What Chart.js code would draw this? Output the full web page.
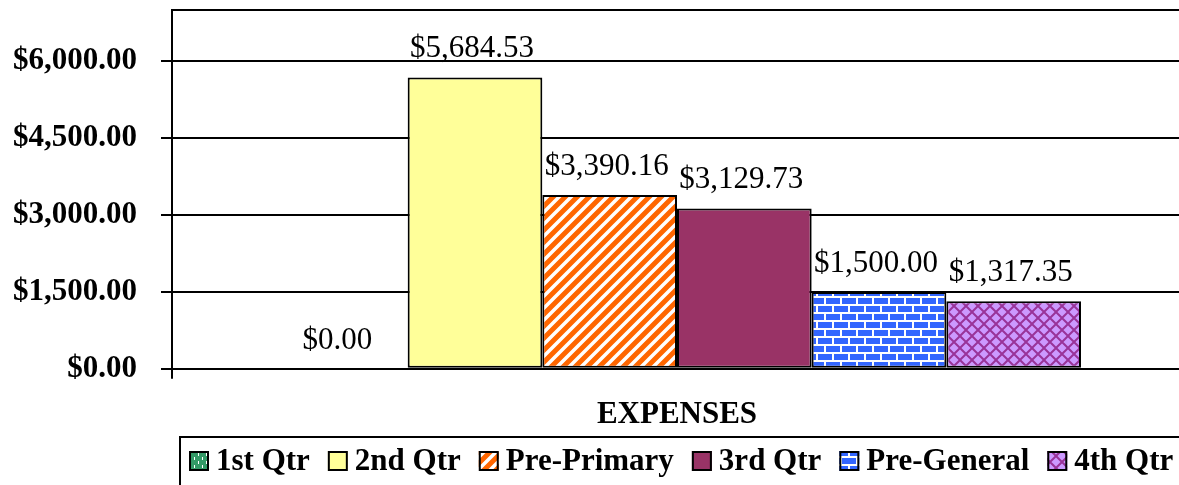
<!DOCTYPE html>
<html>
<head>
<meta charset="utf-8">
<script src="https://cdn.jsdelivr.net/npm/chart.js@4/dist/chart.umd.min.js"></script>
<style>
html,body{margin:0;padding:0;background:#fff;overflow:hidden;width:1179px;height:485px;}
canvas{display:block;}
</style>
</head>
<body>
<canvas id="c" width="1190" height="485"></canvas>
<script>
const categories = ['EXPENSES'];
const seriesNames = ['1st Qtr', '2nd Qtr', 'Pre-Primary', '3rd Qtr', 'Pre-General', '4th Qtr'];
const seriesValues = [0.00, 5684.53, 3390.16, 3129.73, 1500.00, 1317.35];
const yTicks = [0, 1500, 3000, 4500, 6000];
const yMax = 7000;

const FONT = "'Liberation Serif', 'Times New Roman', serif";

function tile(w, h, draw) {
  const c = document.createElement('canvas');
  c.width = w; c.height = h;
  const g = c.getContext('2d');
  draw(g, w, h);
  return document.getElementById('c').getContext('2d').createPattern(c, 'repeat');
}

const greenPat = tile(8, 8, (g) => {
  g.fillStyle = '#339966'; g.fillRect(0, 0, 8, 8);
  g.fillStyle = '#ffffff'; g.fillRect(2, 1, 1, 3); g.fillRect(6, 5, 1, 3);
});
const orangePat = tile(12, 12, (g) => {
  g.fillStyle = '#FF6600'; g.fillRect(0, 0, 12, 12);
  g.strokeStyle = '#ffffff'; g.lineWidth = 3.5;
  g.beginPath();
  g.moveTo(-2, 14); g.lineTo(14, -2);
  g.moveTo(-8, 8); g.lineTo(8, -8);
  g.moveTo(4, 20); g.lineTo(20, 4);
  g.stroke();
});
const brickPat = tile(16, 16, (g) => {
  g.fillStyle = '#3366FF'; g.fillRect(0, 0, 16, 16);
  g.fillStyle = '#ffffff';
  g.fillRect(0, 0, 16, 2);
  g.fillRect(0, 8, 16, 2);
  g.fillRect(0, 2, 2, 6);
  g.fillRect(8, 10, 2, 6);
});
const diamondPat = tile(12, 12, (g) => {
  g.fillStyle = '#CC99FF'; g.fillRect(0, 0, 12, 12);
  g.strokeStyle = '#993399'; g.lineWidth = 2;
  g.beginPath();
  g.moveTo(0, 0); g.lineTo(12, 12);
  g.moveTo(0, 12); g.lineTo(12, 0);
  g.stroke();
});

const fills = [greenPat, '#FFFF99', orangePat, '#993366', brickPat, diamondPat];

const datasets = seriesNames.map((name, i) => ({
  label: name,
  data: [seriesValues[i]],
  backgroundColor: fills[i],
  borderColor: '#000000',
  borderWidth: 2,
  borderSkipped: false,
  barPercentage: 1.0,
  categoryPercentage: 0.8
}));

function money(v) {
  return '$' + v.toLocaleString('en-US', {minimumFractionDigits: 2, maximumFractionDigits: 2});
}

const extras = {
  id: 'extras',
  afterDatasetsDraw(chart) {
    const ctx = chart.ctx;
    ctx.save();
    ctx.fillStyle = '#000';
    ctx.font = '31px ' + FONT;
    ctx.textAlign = 'center';
    ctx.textBaseline = 'alphabetic';
    chart.data.datasets.forEach((ds, i) => {
      const meta = chart.getDatasetMeta(i);
      meta.data.forEach((bar, j) => {
        ctx.fillText(money(ds.data[j]), bar.x - 3, bar.y - 20);
      });
    });
    const a = chart.chartArea;
    ctx.strokeStyle = '#000'; ctx.lineWidth = 2;
    ctx.beginPath(); ctx.moveTo(a.left, a.top); ctx.lineTo(a.right + 10, a.top); ctx.stroke();
    ctx.restore();
  },
  afterDraw(chart) {
    const ctx = chart.ctx;
    ctx.save();
    ctx.strokeStyle = '#000'; ctx.lineWidth = 2;
    ctx.strokeRect(180, 437, 1100, 100);
    ctx.font = 'bold 31px ' + FONT;
    ctx.textBaseline = 'middle';
    ctx.textAlign = 'left';
    let x = 189;
    const cy = 461;
    chart.data.datasets.forEach((ds) => {
      ctx.fillStyle = ds.backgroundColor;
      ctx.fillRect(x, cy - 10, 20, 20);
      ctx.strokeStyle = '#000'; ctx.lineWidth = 2;
      ctx.strokeRect(x + 1, cy - 9, 18, 18);
      ctx.fillStyle = '#000';
      ctx.fillText(ds.label, x + 27, cy + 1);
      x += 27 + ctx.measureText(ds.label).width + 18;
    });
    ctx.restore();
  }
};

new Chart(document.getElementById('c'), {
  type: 'bar',
  data: { labels: categories, datasets: datasets },
  plugins: [extras],
  options: {
    responsive: false,
    animation: false,
    layout: { padding: { top: 10, left: 0, right: 8, bottom: 33 } },
    plugins: { legend: { display: false }, tooltip: { enabled: false } },
    scales: {
      x: {
        offset: true,
        grid: { offset: true, drawOnChartArea: false, drawTicks: true, tickLength: 10, color: '#000', lineWidth: 2 },
        border: { display: true, color: '#000', width: 2 },
        ticks: { color: '#000', padding: 18, font: { family: FONT, size: 31, weight: 'bold' } }
      },
      y: {
        min: 0,
        max: yMax,
        afterBuildTicks(scale) { scale.ticks = yTicks.map(v => ({ value: v })); },
        afterFit(scale) { scale.width = 172; scale.paddingTop = 0; scale.paddingBottom = 0; },
        grid: { color: '#000', lineWidth: 2, tickLength: 11, drawTicks: true },
        border: { display: true, color: '#000', width: 2 },
        ticks: {
          color: '#000', padding: 24,
          font: { family: FONT, size: 31, weight: 'bold' },
          callback: (v) => money(v)
        }
      }
    }
  }
});
</script>
</body>
</html>
